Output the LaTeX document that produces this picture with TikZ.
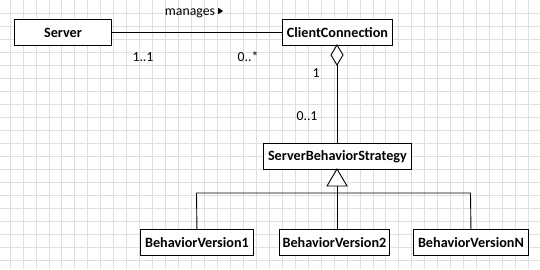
\documentclass[tikz,border=0pt]{standalone}
\usepackage{fontspec}
\setmainfont{Carlito}
\usetikzlibrary{arrows.meta}
\begin{document}
\begin{tikzpicture}[x=1pt,y=-1pt,
  cls/.style={draw=black,fill=white,line width=0.9pt,font=\bfseries\fontsize{14.2}{16}\selectfont,inner sep=0pt,anchor=north west},
  lbl/.style={font=\fontsize{13.8}{15}\selectfont,inner sep=0pt},
  conn/.style={draw=black,line width=0.9pt}]
\useasboundingbox (0,0) rectangle (540,269);
\fill[white] (0,0) rectangle (540,269);
% grid
\foreach \i in {0,...,41} {\draw[gray!25,line width=0.7pt] ({10+12.96*\i},0) -- ({10+12.96*\i},269);}
\foreach \j in {1,...,20} {\draw[gray!25,line width=0.7pt] (0,{13*\j}) -- (540,{13*\j});}
% classes
\node[cls,minimum width=97pt,minimum height=26pt] (srv) at (14,19) {Server};
\node[cls,minimum width=110pt,minimum height=26pt] (cc) at (282,19) {ClientConnection};
\node[cls,minimum width=148pt,minimum height=26pt] (sbs) at (263,143) {ServerBehaviorStrategy};
\node[cls,minimum width=113pt,minimum height=26pt] (bv1) at (140,229) {BehaviorVersion1};
\node[cls,minimum width=110pt,minimum height=26pt] (bv2) at (279,229) {BehaviorVersion2};
\node[cls,minimum width=115pt,minimum height=26pt] (bvn) at (413,229) {BehaviorVersionN};
% association
\draw[conn] (srv.east) -- (cc.west);
\node[lbl] (man) at (194,13) {manages \raisebox{0.25ex}{\tikz\fill (0,0)--(0,6.5pt)--(5pt,3.25pt)--cycle;}};
\node[lbl] (m11) at (143,57) {1..1};
\node[lbl] (m0s) at (248,57) {0..*};
% aggregation
\coordinate (dtop) at (337,45);
\coordinate (dbot) at (337,65);
\draw[conn,fill=white] (dtop) -- (343,55) -- (dbot) -- (331,55) -- cycle;
\coordinate (sbstop) at (337,143);
\draw[conn] (dbot) -- (sbstop);
\node[lbl] (m1) at (316,73) {1};
\node[lbl] (m01) at (307,116) {0..1};
% generalization
\coordinate (tapex) at (337,169);
\coordinate (tbase) at (337,186);
\draw[conn,fill=white] (tapex) -- (347,186) -- (327,186) -- cycle;
\coordinate (hl) at (196.5,193);
\coordinate (hr) at (470.5,193);
\draw[conn] (tbase) -- (337,229);
\draw[conn] (bv1.north) -- (hl) -- (hr) -- (bvn.north);
\end{tikzpicture}
\end{document}
